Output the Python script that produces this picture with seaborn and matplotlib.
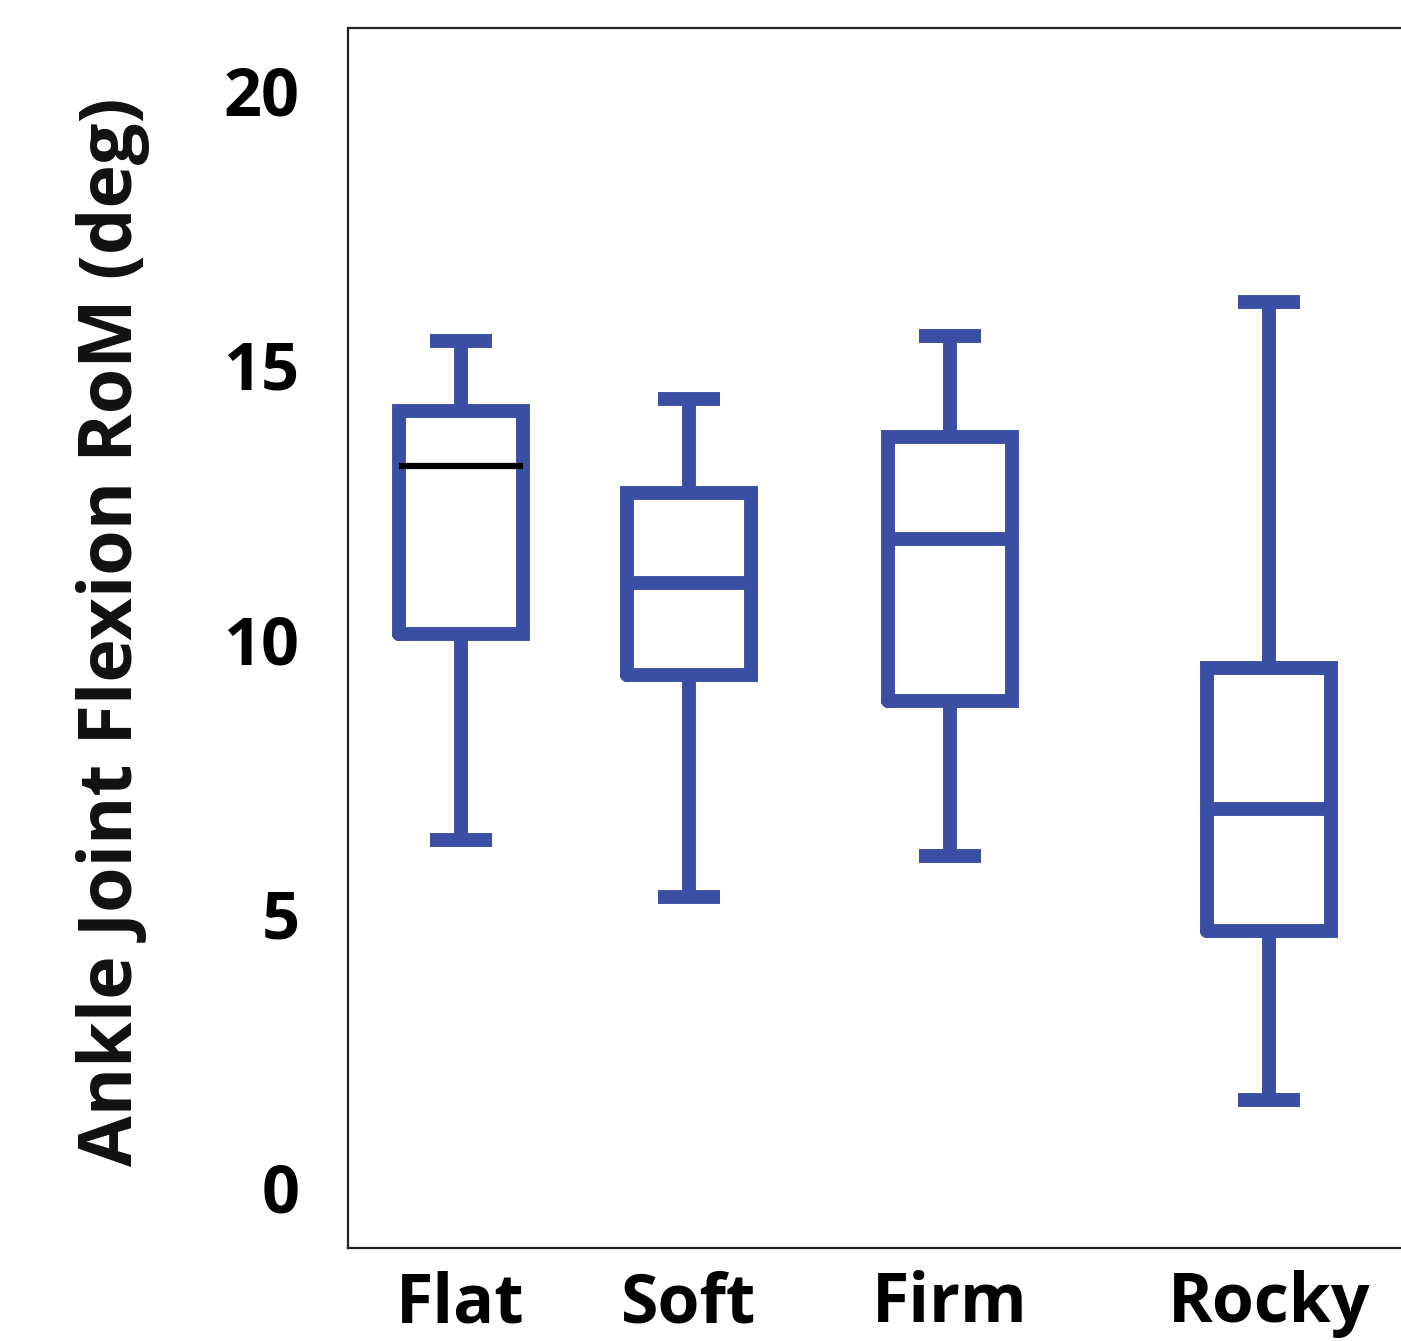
import numpy as np
import pandas as pd
import matplotlib
matplotlib.use("Agg")
import matplotlib.pyplot as plt
import seaborn as sns

# ---- data ----
categories = ["Flat", "Soft", "Firm", "Rocky"]
whisker_low = [6.33, 5.29, 6.03, 1.58]
q1_values = [10.08, 9.33, 8.86, 4.67]
median_values = [13.14, 11.01, 11.81, 6.89]
q3_values = [14.15, 12.65, 13.68, 9.46]
whisker_high = [15.42, 14.37, 15.52, 16.13]
y_ticks = [0, 5, 10, 15, 20]
y_label = "Ankle Joint Flexion RoM (deg)"

# ---- layout (not data) ----
box_positions = [1.0, 2.0, 3.145, 4.544]
box_color = "#3A4FA4"

sns.set_style("white")
plt.rcParams["font.family"] = ["Open Sans", "DejaVu Sans"]
plt.rcParams["font.weight"] = "bold"
plt.rcParams["lines.solid_joinstyle"] = "miter"

# five summary values per group -> linear percentiles reproduce the quartiles exactly
rows = []
for cat, pos, lo, a, m, b, hi in zip(categories, box_positions, whisker_low,
                                     q1_values, median_values, q3_values, whisker_high):
    for v in (lo, a, m, b, hi):
        rows.append({"pos": pos, "value": v, "surface": cat})
df = pd.DataFrame(rows)

fig = plt.figure(figsize=(14.01, 13.41), dpi=100)
ax = fig.add_axes([348 / 1401, 93 / 1341, 1 - 348 / 1401, 1220 / 1341])

sns.boxplot(data=df, x="pos", y="value", native_scale=True, fill=False,
            color=box_color, linecolor=box_color, linewidth=10, width=0.544,
            whis=(0, 100), showfliers=False, ax=ax,
            capprops=dict(solid_capstyle="butt"),
            medianprops=dict(solid_capstyle="butt"))

# the Flat median is drawn as a thinner black line in the reference
for ln in ax.lines:
    xd = np.asarray(ln.get_xdata(), dtype=float)
    yd = np.asarray(ln.get_ydata(), dtype=float)
    if len(yd) == 2 and np.allclose(yd, median_values[0]) and abs(xd.mean() - box_positions[0]) < 1e-6:
        ln.set_color("black")
        ln.set_linewidth(4.5)
        ln.set_zorder(5)

ax.set_xlim(0.5066, 5.123)
ax.set_ylim(-1.11, 21.13)
ax.set_xticks(box_positions)
ax.set_xticklabels(categories)
ax.set_yticks(y_ticks)
ax.set_yticklabels([str(t) for t in y_ticks])
ax.tick_params(axis="both", length=0, colors="black")
ax.tick_params(axis="y", pad=35, labelsize=48)
ax.tick_params(axis="x", pad=16, labelsize=49)
for lab in ax.get_xticklabels() + ax.get_yticklabels():
    lab.set_fontweight("bold")
ax.set_xlabel("")
ax.set_ylabel(y_label, fontsize=53, fontweight="bold", color="#111111")
ax.yaxis.set_label_coords(-198 / 1053, 0.505)

for side in ("left", "bottom", "top"):
    ax.spines[side].set_visible(True)
    ax.spines[side].set_linewidth(1.6)
    ax.spines[side].set_color("#222222")
ax.spines["right"].set_visible(False)

fig.savefig("out.png", dpi=100, facecolor="white")
